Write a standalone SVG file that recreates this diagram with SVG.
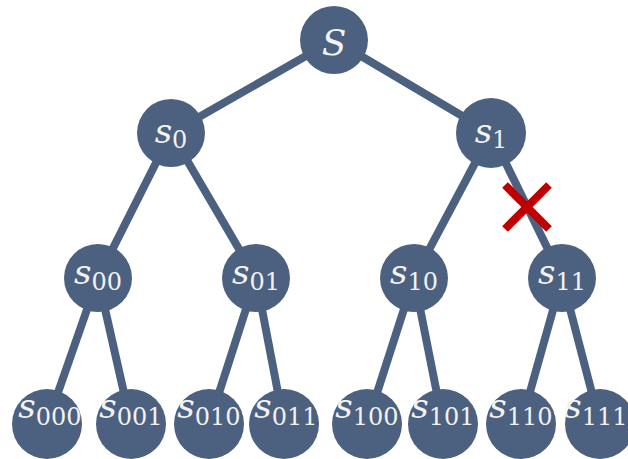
<svg xmlns="http://www.w3.org/2000/svg" width="628" height="459" viewBox="0 0 628 459">
<style>
.n{fill:#4c6080}
.e{stroke:#4c6080;stroke-width:8;stroke-linecap:butt;fill:none}
.t{font-family:"DejaVu Serif","Liberation Serif",serif;fill:#f2f2f2;text-anchor:middle}
.v{font-style:italic;font-size:34px}
.b{font-size:24px;font-style:normal}
.x{stroke:#c00000;stroke-width:8;fill:none}
</style>
<rect width="628" height="459" fill="#ffffff"/>
<g id="connectors">
<line class="e" x1="334" y1="40" x2="171" y2="133"/>
<line class="e" x1="334" y1="40" x2="491" y2="133"/>
<line class="e" x1="171" y1="133" x2="98" y2="278"/>
<line class="e" x1="171" y1="133" x2="256" y2="278"/>
<line class="e" x1="491" y1="133" x2="414" y2="278"/>
<line class="e" x1="491" y1="133" x2="562" y2="278"/>
<line class="e" x1="98" y1="278" x2="47" y2="424"/>
<line class="e" x1="98" y1="278" x2="131" y2="424"/>
<line class="e" x1="256" y1="278" x2="209" y2="424"/>
<line class="e" x1="256" y1="278" x2="284" y2="424"/>
<line class="e" x1="414" y1="278" x2="367" y2="424"/>
<line class="e" x1="414" y1="278" x2="443" y2="424"/>
<line class="e" x1="562" y1="278" x2="521" y2="424"/>
<line class="e" x1="562" y1="278" x2="600" y2="424"/>
</g>
<g id="cut">
<line class="x" x1="505" y1="185" x2="549" y2="229"/>
<line class="x" x1="549" y1="185" x2="505" y2="229"/>
</g>
<g id="S"><circle class="n" cx="334" cy="40" r="34"/><text class="t" x="334" y="55" font-style="italic" font-size="36">S</text></g>
<g id="s0"><circle class="n" cx="171" cy="133" r="34"/><text class="t v" x="171" y="143">s<tspan class="b" dy="5">0</tspan></text></g>
<g id="s1"><circle class="n" cx="491" cy="133" r="35"/><text class="t v" x="491" y="143">s<tspan class="b" dy="5">1</tspan></text></g>
<g id="s00"><circle class="n" cx="98" cy="278" r="34"/><text class="t v" x="98" y="284">s<tspan class="b" dy="6">00</tspan></text></g>
<g id="s01"><circle class="n" cx="256" cy="278" r="34"/><text class="t v" x="256" y="284">s<tspan class="b" dy="6">01</tspan></text></g>
<g id="s10"><circle class="n" cx="414" cy="278" r="34"/><text class="t v" x="414" y="284">s<tspan class="b" dy="6">10</tspan></text></g>
<g id="s11"><circle class="n" cx="562" cy="278" r="34"/><text class="t v" x="562" y="284">s<tspan class="b" dy="6">11</tspan></text></g>
<g id="s000"><circle class="n" cx="47" cy="424" r="35"/><text class="t v" x="50" y="418">s<tspan class="b" dy="7">000</tspan></text></g>
<g id="s001"><circle class="n" cx="131" cy="424" r="35"/><text class="t v" x="131" y="418">s<tspan class="b" dy="7">001</tspan></text></g>
<g id="s010"><circle class="n" cx="209" cy="424" r="35"/><text class="t v" x="209" y="418">s<tspan class="b" dy="7">010</tspan></text></g>
<g id="s011"><circle class="n" cx="284" cy="424" r="35"/><text class="t v" x="286" y="418">s<tspan class="b" dy="7">011</tspan></text></g>
<g id="s100"><circle class="n" cx="367" cy="424" r="35"/><text class="t v" x="367" y="418">s<tspan class="b" dy="7">100</tspan></text></g>
<g id="s101"><circle class="n" cx="443" cy="424" r="35"/><text class="t v" x="443" y="418">s<tspan class="b" dy="7">101</tspan></text></g>
<g id="s110"><circle class="n" cx="521" cy="424" r="35"/><text class="t v" x="521" y="418">s<tspan class="b" dy="7">110</tspan></text></g>
<g id="s111"><circle class="n" cx="600" cy="424" r="35"/><text class="t v" x="596" y="418">s<tspan class="b" dy="7">111</tspan></text></g>
</svg>
